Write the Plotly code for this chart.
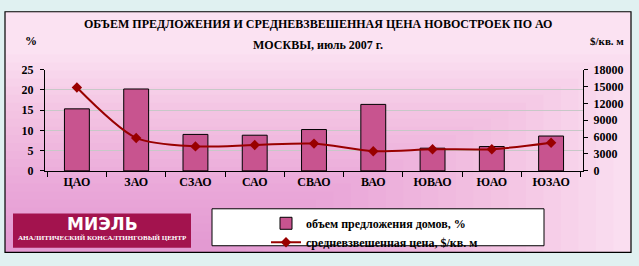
import plotly.graph_objects as go

categories = ["ЦАО", "ЗАО", "СЗАО", "САО", "СВАО", "ВАО", "ЮВАО", "ЮАО", "ЮЗАО"]
supply_pct = [15.3, 20.2, 9.0, 8.8, 10.2, 16.4, 5.6, 6.0, 8.6]
price_usd = [14800, 5850, 4350, 4600, 4850, 3500, 3850, 3850, 5000]

W, H = 639, 266
FONT = "Liberation Serif"

def px(x):
    return x / W

def py(y):
    return 1 - y / H

BOLD = dict(family=FONT, size=12, color="#000", weight="bold")

fig = go.Figure()
fig.add_trace(go.Bar(
    x=categories, y=supply_pct, name="объем предложения домов, %",
    marker=dict(color="#c8548f", line=dict(color="#000000", width=1)),
    yaxis="y",
))
fig.add_trace(go.Scatter(
    x=categories, y=price_usd, name="средневзвешенная цена, $/кв. м",
    mode="lines+markers", line=dict(color="#990000", width=2, shape="spline", smoothing=0.8),
    marker=dict(symbol="diamond", size=8, color="#990000"),
    yaxis="y2",
))

shapes = []
shapes.append(dict(type="rect", xref="paper", yref="paper", x0=px(5), x1=px(631), y0=py(259), y1=py(5),
                   fillcolor="#fbe2f2", line=dict(width=0), layer="below"))
for i in range(24):
    top = 50 + i * 8.5
    right = 631 - i * 17.5
    shapes.append(dict(type="rect", xref="paper", yref="paper", x0=px(5), x1=px(right), y0=py(259), y1=py(top),
                       fillcolor="#f07cc4", opacity=0.035, line=dict(width=0), layer="below"))
shapes.append(dict(type="rect", xref="paper", yref="paper", x0=px(5), x1=px(631), y0=py(259), y1=py(5),
                   fillcolor="rgba(0,0,0,0)", line=dict(color="#000000", width=1.2), layer="below"))
shapes.append(dict(type="rect", xref="paper", yref="paper", x0=px(13), x1=px(191), y0=py(254), y1=py(218),
                   fillcolor="#a3134e", line=dict(width=0), layer="below"))
shapes.append(dict(type="rect", xref="paper", yref="paper", x0=px(212), x1=px(544), y0=py(252), y1=py(213),
                   fillcolor="#ffffff", line=dict(color="#000000", width=1), layer="below"))

annotations = [
    dict(text="ОБЪЕМ ПРЕДЛОЖЕНИЯ И СРЕДНЕВЗВЕШЕННАЯ ЦЕНА НОВОСТРОЕК ПО АО", x=px(318), y=py(18),
         xref="paper", yref="paper", showarrow=False, font=BOLD, xanchor="center", yanchor="middle"),
    dict(text="МОСКВЫ, июль 2007 г.", x=px(318), y=py(40),
         xref="paper", yref="paper", showarrow=False, font=BOLD, xanchor="center", yanchor="middle"),
    dict(text="%", x=px(31), y=py(36), xref="paper", yref="paper", showarrow=False,
         font=BOLD, xanchor="center", yanchor="middle"),
    dict(text="$/кв. м", x=px(607), y=py(36), xref="paper", yref="paper", showarrow=False,
         font=dict(family=FONT, size=11, color="#000", weight="bold"), xanchor="center", yanchor="middle"),
    dict(text="<b>МИЭЛЬ</b>", x=px(102), y=py(229), xref="paper", yref="paper", showarrow=False,
         font=dict(family="DejaVu Sans", size=17, color="#ffffff"), xanchor="center", yanchor="middle"),
    dict(text="<b>АНАЛИТИЧЕСКИЙ КОНСАЛТИНГОВЫЙ ЦЕНТР</b>", x=px(102), y=py(244), xref="paper", yref="paper",
         showarrow=False, font=dict(family=FONT, size=7, color="#ffffff"), xanchor="center", yanchor="middle"),
]

fig.update_layout(
    width=W, height=H, margin=dict(l=0, r=0, t=0, b=0),
    paper_bgcolor="#e0f1f1", plot_bgcolor="rgba(0,0,0,0)",
    font=BOLD,
    shapes=shapes, annotations=annotations,
    bargap=0.58,
    showlegend=True,
    legend=dict(x=px(266), y=py(213), xanchor="left", yanchor="top", bgcolor="rgba(0,0,0,0)",
                borderwidth=0, font=BOLD, tracegroupgap=0, itemwidth=30),
    xaxis=dict(domain=[px(45), px(583)], showline=True, linecolor="#000", linewidth=1,
               ticks="outside", tickson="boundaries", ticklen=5, tickcolor="#000",
               tickfont=BOLD, showgrid=False),
    yaxis=dict(domain=[py(173), py(66)], range=[0, 25], dtick=5, showline=True, linecolor="#000",
               linewidth=1, ticks="outside", ticklen=4, tickcolor="#000", showgrid=True,
               gridcolor="#c8c8c8", gridwidth=1, zeroline=False,
               tickfont=BOLD, ticklabelstandoff=4),
    yaxis2=dict(overlaying="y", side="right", range=[0, 18000], dtick=3000, tickformat="d",
                showline=True, linecolor="#000", linewidth=1, ticks="outside", ticklen=4,
                tickcolor="#000", showgrid=False, zeroline=False, tickfont=BOLD,
                anchor="x", ticklabelstandoff=3),
)

fig.write_html("out.html")
